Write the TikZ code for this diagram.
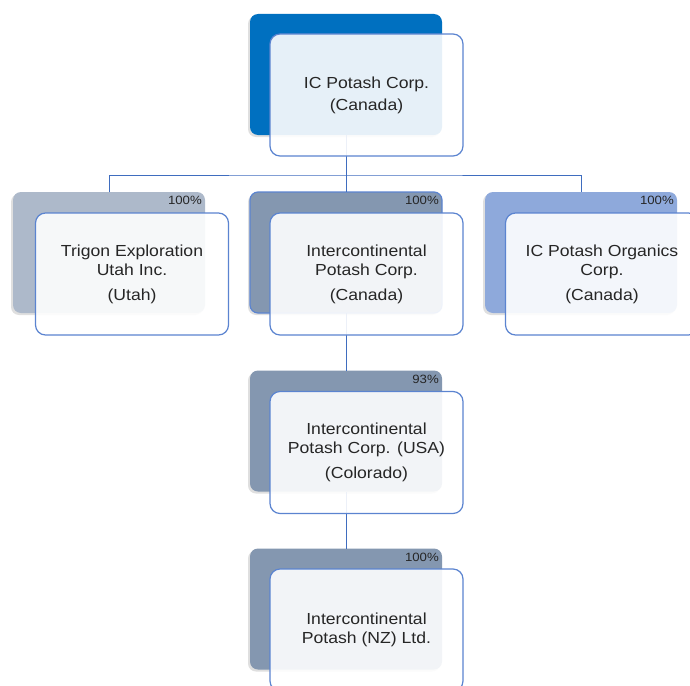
\documentclass[tikz,border=0pt]{standalone}
\usepackage{fontspec}
\setmainfont{Liberation Sans}[FakeStretch=1.1]
\usetikzlibrary{shadows}
\definecolor{topblue}{HTML}{0070C0}
\definecolor{grayblue}{HTML}{ADB9CA}
\definecolor{slate}{HTML}{8497B0}
\definecolor{lightblue}{HTML}{8EA9DB}
\definecolor{edgeblue}{HTML}{5B84D0}
\definecolor{linkblue}{HTML}{3F6DBF}
\definecolor{txt}{HTML}{262626}
\tikzset{
  backbox/.style={rectangle, rounded corners=8pt, minimum width=192pt, minimum height=121pt,
    inner sep=0pt, outer sep=0pt, draw=none,
    drop shadow={shadow xshift=-2pt, shadow yshift=-2pt, opacity=0.25}},
  frontbox/.style={rectangle, rounded corners=10pt, minimum width=193pt, minimum height=122pt,
    inner sep=0pt, outer sep=0pt, draw=edgeblue, line width=1.2pt,
    fill=white, fill opacity=0.9, text opacity=1, text=txt, align=center,
    font=\fontsize{16}{19}\selectfont},
  pct/.style={anchor=north east, inner sep=0pt, text=txt, font=\fontsize{12}{14}\selectfont},
  link/.style={draw=linkblue, line width=1pt}
}
\begin{document}
\begin{tikzpicture}[x=1pt, y=-1pt]
\clip (0,0) rectangle (690,685);
\fill[white] (0,0) rectangle (690,685);
% back boxes
\node[backbox, fill=topblue] (b0) at (346,74.5) {};
\node[backbox, fill=grayblue] (b1) at (109,252.5) {};
\node[backbox, fill=slate, draw=edgeblue, line width=1.2pt] (b2) at (346,252.5) {};
\node[backbox, fill=lightblue] (b3) at (581,252.5) {};
\node[backbox, fill=slate] (b4) at (346,431) {};
\node[backbox, fill=slate] (b5) at (346,609) {};
% percentages
\node[pct] (p1) at ([xshift=-3pt,yshift=-4pt]b1.north east) {100\%};
\node[pct] (p2) at ([xshift=-3pt,yshift=-4pt]b2.north east) {100\%};
\node[pct] (p3) at ([xshift=-3pt,yshift=-4pt]b3.north east) {100\%};
\node[pct] (p4) at ([xshift=-3pt,yshift=-4pt]b4.north east) {93\%};
\node[pct] (p5) at ([xshift=-3pt,yshift=-4pt]b5.north east) {100\%};
% connectors
\coordinate (bar) at (346,175);
\draw[link] (b0.south) -- (bar);
\draw[link] (b1.north) |- (bar) -| (b3.north);
\draw[link] (bar) -- (b2.north);
\draw[link] (b2.south) -- (b4.north);
\draw[link] (b4.south) -- (b5.north);
% front boxes
\node[frontbox] (f0) at (366.5,95) {IC Potash Corp.\\[3pt](Canada)};
\node[frontbox] (f1) at (132,274) {Trigon Exploration\\Utah Inc.\\[6pt](Utah)};
\node[frontbox] (f2) at (366.5,274) {Intercontinental\\Potash Corp.\\[6pt](Canada)};
\node[frontbox] (f3) at (602,274) {IC Potash Organics\\Corp.\\[6pt](Canada)};
\node[frontbox] (f4) at (366.5,452.5) {Intercontinental\\Potash Corp. (USA)\\[6pt](Colorado)};
\node[frontbox] (f5) at (366.5,630) {Intercontinental\\Potash (NZ) Ltd.};
\end{tikzpicture}
\end{document}
